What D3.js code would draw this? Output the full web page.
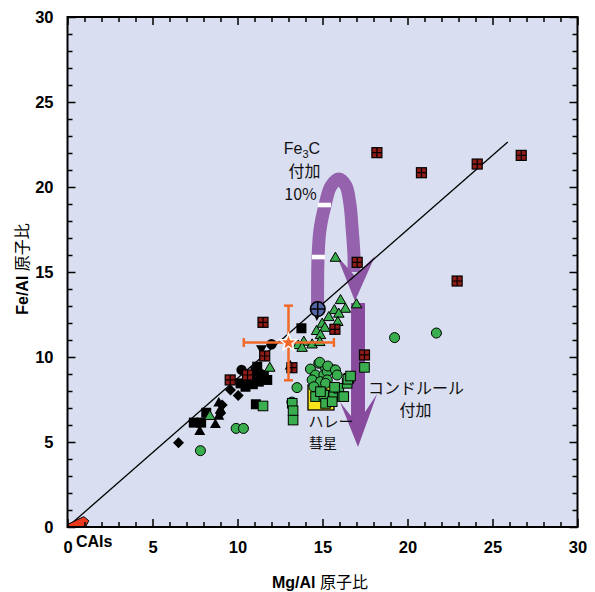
<!DOCTYPE html>
<html><head><meta charset="utf-8">
<script src="https://cdn.jsdelivr.net/npm/d3@7"></script>
<style>
html,body{margin:0;padding:0;background:#fff;}
svg text{font-family:"Liberation Sans",Arial,sans-serif;}
.jp{font-family:"Noto Sans CJK JP","Liberation Sans",sans-serif;}
</style></head>
<body><svg id="c" width="595" height="592"></svg>
<script>
// ---------- data ----------
const xTicks = [0,5,10,15,20,25,30];
const yTicks = [0,5,10,15,20,25,30];
const blackSquares = [[13.76,11.69],[11.06,9.14],[11.55,8.94],[11.75,8.65],[11.25,8.55],[10.76,8.75],[10.47,8.25],[10.18,8.45],[11.16,9.43],[11.08,7.22],[8.16,6.72],[7.43,6.14],[7.86,6.14],[10.9,8.4]];
const blackCircles = [[12.0,10.75],[10.24,9.24],[11.3,9.05]];
const blackTriangles = [[8.9,7.37],[9.0,6.98],[8.9,6.59],[8.7,6.1],[7.78,5.7],[13.1,9.55]];
const blackDiamonds = [[9.1,7.18],[9.0,6.69],[10.04,7.73],[9.59,8.06],[6.53,4.96]];
const blackInvTriangles = [[11.41,10.41]];
const greenCircles = [[19.24,11.14],[21.7,11.41],[13.5,8.2],[9.92,5.8],[10.35,5.8],[7.82,4.49],[13.2,7.35],
  [14.29,9.29],[14.78,9.63],[15.18,9.34],[15.66,9.24],[14.59,8.94],[15.08,8.94],[15.28,9.14],[14.39,8.65],
  [14.88,8.55],[15.28,8.65],[14.49,8.25],[15.18,8.45],[14.84,9.69],[15.31,9.47],[15.76,9.24],[15.86,8.94],[15.08,7.86]];
const greenSquares = [[11.5,7.12],[13.22,7.28],[13.27,6.84],[13.27,6.29],[17.47,9.39],[14.59,7.67],[15.08,7.76],
  [15.18,7.27],[15.66,7.76],[15.96,8.16],[16.16,7.67],[16.45,8.45],[16.55,8.75],[15.57,7.37],[14.88,7.96],
  [16.49,8.69],[16.65,8.88],[16.25,7.67],[15.71,8.22]];
const greenTriangles = [[15.76,15.9],[16.06,13.41],[16.35,12.9],[17.0,13.16],[15.7,12.82],[15.37,12.41],[15.96,12.61],
  [15.9,12.12],[14.98,12.02],[14.65,11.59],[15.14,11.78],[14.88,11.35],[13.9,10.96],[13.55,10.76],[13.8,10.6],
  [14.39,10.8],[14.84,10.94],[11.9,9.43],[8.37,6.59]];
const redGrid = [[18.2,22.02],[20.82,20.84],[24.1,21.35],[26.69,21.86],[17.04,15.57],[22.92,14.47],[15.73,11.63],
  [17.47,10.12],[11.5,12.04],[11.6,10.06],[13.2,9.37],[10.59,8.94],[9.57,8.65]];
const starPoint = [13.0,10.85];
const starXErr = [10.37,15.67];
const starYErr = [8.63,13.02];
const pinPoint = [14.72,12.82];
const halley = [14.91,7.62];
const refLine = [[0,0],[25.9,22.65]];
const caiPoly = [[0,0],[0,0.15],[0.96,0.61],[1.25,0.37],[1.06,0]];
const loopPath = [[14.71,13.06],[14.74,15.88],[14.85,17.47],[15.15,18.94],[15.5,20.06],[15.97,20.47],[16.38,20.06],[16.62,18.94],[16.74,17.59],[16.85,16.0],[16.85,15.0]];
const loopHead = [[15.85,15.94],[16.91,13.29],[18.09,15.94],[16.91,14.76]];
const loopDashes = [[15.12,18.94],[14.76,15.88]];
const chondArrow = [[16.68,13.18],[17.5,13.18],[17.5,6.76],[18.21,7.82],[17.09,4.71],[16.03,7.35],[16.68,6.53]];
const annotations = [
  {t:"付加", p:[13.94,20.59], s:16},
  {t:"10%", p:[13.71,19.24], s:16},
  {t:"コンドルール", p:[20.5,7.82], s:16},
  {t:"付加", p:[20.47,6.53], s:16},
  {t:"ハレー", p:[15.5,5.88], s:15},
  {t:"彗星", p:[15.03,4.66], s:14}
];

// ---------- drawing ----------
const svg = d3.select("#c");
const x = d3.scaleLinear().domain([0,30]).range([67.5,577.5]);
const y = d3.scaleLinear().domain([0,30]).range([527,17]);

svg.append("rect").attr("x",x(0)).attr("y",y(30)).attr("width",x(30)-x(0)).attr("height",y(0)-y(30)).attr("fill","#d9dff0");

// arrows
const purpleL = "#9562ad", purpleD = "#884a9d";
svg.append("path").attr("d", d3.line().x(d=>x(d[0])).y(d=>y(d[1])).curve(d3.curveCatmullRom)(loopPath))
  .attr("fill","none").attr("stroke",purpleL).attr("stroke-width",13);
svg.append("path").attr("d", "M"+loopHead.map(d=>x(d[0])+","+y(d[1])).join("L")+"Z").attr("fill","#8d56a5");
svg.selectAll(".dash").data(loopDashes).enter().append("rect")
  .attr("x",d=>x(d[0])-6.5).attr("y",d=>y(d[1])-2.3).attr("width",13).attr("height",4.6).attr("fill","#fff");
svg.append("path").attr("d", "M"+chondArrow.map(d=>x(d[0])+","+y(d[1])).join("L")+"Z").attr("fill",purpleD);

// reference line
svg.append("line").attr("x1",x(refLine[0][0])).attr("y1",y(refLine[0][1])).attr("x2",x(refLine[1][0])).attr("y2",y(refLine[1][1]))
  .attr("stroke","#000").attr("stroke-width",1.3);

// CAIs
svg.append("path").attr("d","M"+caiPoly.map(d=>x(d[0])+","+y(d[1])).join("L")+"Z").attr("fill","#e8391d").attr("stroke","#000").attr("stroke-width",1);

// Halley
svg.append("rect").attr("x",x(halley[0])-13).attr("y",y(halley[1])-12.5).attr("width",26).attr("height",25)
  .attr("fill","#f7e51a").attr("stroke","#000").attr("stroke-width",1.3);

const g = svg.append("g");
// black markers
g.selectAll(".bs").data(blackSquares).enter().append("rect").attr("x",d=>x(d[0])-5).attr("y",d=>y(d[1])-5).attr("width",10).attr("height",10).attr("fill","#000");
g.selectAll(".bc").data(blackCircles).enter().append("circle").attr("cx",d=>x(d[0])).attr("cy",d=>y(d[1])).attr("r",5.2).attr("fill","#000");
const tri = (cx,cy,s,inv)=>{const h=s*0.87; return inv? `M${cx-s/2},${cy-h/2}L${cx+s/2},${cy-h/2}L${cx},${cy+h/2}Z` : `M${cx-s/2},${cy+h/2}L${cx+s/2},${cy+h/2}L${cx},${cy-h/2}Z`;};
g.selectAll(".bt").data(blackTriangles).enter().append("path").attr("d",d=>tri(x(d[0]),y(d[1]),11,false)).attr("fill","#000");
g.selectAll(".bi").data(blackInvTriangles).enter().append("path").attr("d",d=>tri(x(d[0]),y(d[1]),11,true)).attr("fill","#000");
g.selectAll(".bd").data(blackDiamonds).enter().append("path").attr("d",d=>{const cx=x(d[0]),cy=y(d[1]);return `M${cx},${cy-5.5}L${cx+5.5},${cy}L${cx},${cy+5.5}L${cx-5.5},${cy}Z`;}).attr("fill","#000");
// green markers
const green="#3aae4f";
g.selectAll(".gc").data(greenCircles).enter().append("circle").attr("cx",d=>x(d[0])).attr("cy",d=>y(d[1])).attr("r",5).attr("fill",green).attr("stroke","#000").attr("stroke-width",1);
g.selectAll(".gs").data(greenSquares).enter().append("rect").attr("x",d=>x(d[0])-4.8).attr("y",d=>y(d[1])-4.8).attr("width",9.6).attr("height",9.6).attr("fill",green).attr("stroke","#000").attr("stroke-width",1);
g.selectAll(".gt").data(greenTriangles).enter().append("path").attr("d",d=>tri(x(d[0]),y(d[1]),10.5,false)).attr("fill",green).attr("stroke","#000").attr("stroke-width",1);
// red grid squares
const rg = g.selectAll(".rg").data(redGrid).enter().append("g").attr("transform",d=>`translate(${x(d[0])},${y(d[1])})`);
rg.append("rect").attr("x",-5).attr("y",-5).attr("width",10).attr("height",10).attr("fill","#8e1b17").attr("stroke","#000").attr("stroke-width",1.2);
rg.append("path").attr("d","M-5,0H5M0,-5V5").attr("stroke","#000").attr("stroke-width",1.2);

// error bars + star
const orange="#f26a2a";
const sx=x(starPoint[0]), sy=y(starPoint[1]);
g.append("line").attr("x1",x(starXErr[0])).attr("x2",x(starXErr[1])).attr("y1",sy).attr("y2",sy).attr("stroke",orange).attr("stroke-width",2.5);
g.append("line").attr("x1",sx).attr("x2",sx).attr("y1",y(starYErr[0])).attr("y2",y(starYErr[1])).attr("stroke",orange).attr("stroke-width",2.5);
[starXErr[0],starXErr[1]].forEach(v=>g.append("line").attr("x1",x(v)).attr("x2",x(v)).attr("y1",sy-4.5).attr("y2",sy+4.5).attr("stroke",orange).attr("stroke-width",2.5));
[starYErr[0],starYErr[1]].forEach(v=>g.append("line").attr("x1",sx-4.5).attr("x2",sx+4.5).attr("y1",y(v)).attr("y2",y(v)).attr("stroke",orange).attr("stroke-width",2.5));
let sp=[]; for(let i=0;i<10;i++){const r=i%2?3.8:9, a=-Math.PI/2+i*Math.PI/5; sp.push([sx+r*Math.cos(a), sy+r*Math.sin(a)]);}
g.append("path").attr("d","M"+sp.map(p=>p.join(",")).join("L")+"Z").attr("fill",orange).attr("stroke","#fff").attr("stroke-width",1.5);

// blue pin
const px=x(pinPoint[0]), py=y(pinPoint[1]);
g.append("path").attr("d",`M${px-4},${py+5}L${px+3},${py+5}L${px-1},${py+12}Z`).attr("fill","#000");
g.append("circle").attr("cx",px).attr("cy",py).attr("r",7.3).attr("fill","#5467a8").attr("stroke","#000").attr("stroke-width",1.6);
g.append("path").attr("d",`M${px-7},${py}H${px+7}M${px},${py-7}V${py+7}`).attr("stroke","#000").attr("stroke-width",1.5);

// annotations
const fe = svg.append("text").attr("x",x(13.79)).attr("y",y(21.97)).attr("text-anchor","middle").attr("font-size",16).attr("fill","#111");
fe.append("tspan").text("Fe");
fe.append("tspan").text("3").attr("font-size",11).attr("dy",4);
fe.append("tspan").text("C").attr("dy",-4);
svg.selectAll(".ann").data(annotations).enter().append("text").attr("class","jp")
  .attr("x",d=>x(d.p[0])).attr("y",d=>y(d.p[1])).attr("text-anchor","middle").attr("font-size",d=>d.s).attr("fill","#111").text(d=>d.t);

// axes
const minor = d3.range(0,31).filter(v=>v%5!==0);
function ax(gen, tr, major){
  const a = svg.append("g").attr("transform",tr);
  a.call(gen.tickValues(minor).tickSize(-5).tickFormat(""));
  a.select(".domain").remove();
  const b = svg.append("g").attr("transform",tr);
  b.call(major);
  b.select(".domain").remove();
  a.selectAll("line").attr("stroke","#000").attr("stroke-width",1.5);
  b.selectAll("line").attr("stroke","#000").attr("stroke-width",1.5);
  return b;
}
const bx = ax(d3.axisBottom(x), `translate(0,${y(0)})`, d3.axisBottom(x).tickValues(xTicks).tickSize(-8).tickPadding(14).tickFormat(d3.format("d")));
const lx = ax(d3.axisLeft(y), `translate(${x(0)},0)`, d3.axisLeft(y).tickValues(yTicks).tickSize(-8).tickPadding(14).tickFormat(d3.format("d")));
ax(d3.axisTop(x), `translate(0,${y(30)})`, d3.axisTop(x).tickValues(xTicks).tickSize(-8).tickFormat(""));
ax(d3.axisRight(y), `translate(${x(30)},0)`, d3.axisRight(y).tickValues(yTicks).tickSize(-8).tickFormat(""));
[bx,lx].forEach(a=>a.selectAll("text").attr("font-size",16.5).attr("font-weight","bold").attr("fill","#000").attr("font-family","Liberation Sans, Arial, sans-serif"));

svg.append("rect").attr("x",x(0)).attr("y",y(30)).attr("width",x(30)-x(0)).attr("height",y(0)-y(30)).attr("fill","none").attr("stroke","#000").attr("stroke-width",2);

// CAIs label
svg.append("text").attr("x",76).attr("y",547).attr("font-size",16).attr("font-weight","bold").text("CAIs");

// axis titles
const xt = svg.append("text").attr("x",320).attr("y",588).attr("text-anchor","middle").attr("font-size",16);
xt.append("tspan").attr("font-weight","bold").text("Mg/Al ");
xt.append("tspan").attr("class","jp").text("原子比");
const yt = svg.append("text").attr("transform","translate(28,269) rotate(-90)").attr("text-anchor","middle").attr("font-size",16);
yt.append("tspan").attr("font-weight","bold").text("Fe/Al ");
yt.append("tspan").attr("class","jp").text("原子比");
</script></body></html>
